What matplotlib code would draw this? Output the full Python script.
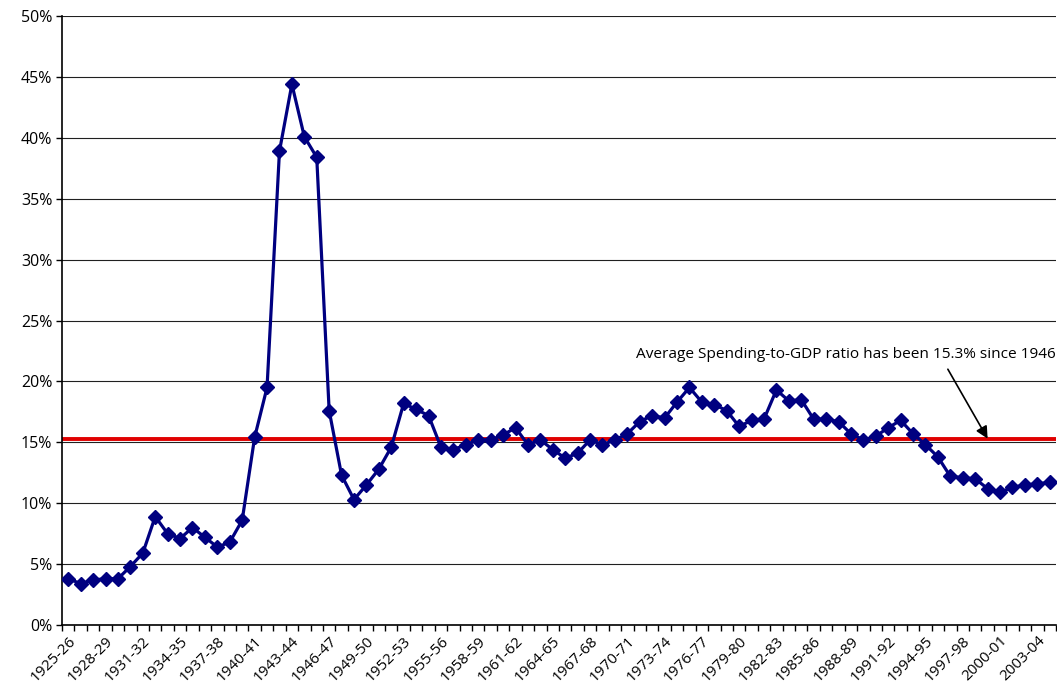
import matplotlib.pyplot as plt
from matplotlib.ticker import FixedLocator, FuncFormatter

# Fiscal years 1925-26 .. 2004-05
start_years = list(range(1925, 2005))
year_labels = [f"{y}-{(y + 1) % 100:02d}" for y in start_years]

# Spending as share of GDP (%)
spending_pct = [
    3.8, 3.4, 3.7, 3.8, 3.8, 4.8, 5.9, 8.9, 7.5, 7.1,
    8.0, 7.2, 6.4, 6.8, 8.6, 15.4, 19.5, 38.9, 44.4, 40.1,
    38.4, 17.6, 12.3, 10.3, 11.5, 12.8, 14.6, 18.2, 17.7, 17.2,
    14.6, 14.4, 14.8, 15.2, 15.2, 15.6, 16.2, 14.8, 15.2, 14.4,
    13.7, 14.1, 15.2, 14.8, 15.2, 15.7, 16.7, 17.2, 17.0, 18.3,
    19.5, 18.3, 18.1, 17.6, 16.3, 16.8, 16.9, 19.3, 18.4, 18.5,
    16.9, 16.9, 16.7, 15.7, 15.2, 15.5, 16.2, 16.8, 15.7, 14.8,
    13.8, 12.2, 12.1, 12.0, 11.2, 10.9, 11.3, 11.5, 11.6, 11.7,
]
avg_since_1946 = 15.3
note = "Average Spending-to-GDP ratio has been 15.3% since 1946"

plt.rcParams['font.family'] = ['Open Sans', 'DejaVu Sans']

fig = plt.figure(figsize=(10.57, 6.90), dpi=100)
ax = fig.add_axes([0.0587, 0.0942, 0.9403, 0.8826])

x = list(range(len(spending_pct)))
ax.plot(x, spending_pct, color='#000080', linewidth=2.3, marker='D',
        markersize=7.5, zorder=3)
ax.axhline(avg_since_1946, color='#e00000', linewidth=2.8, zorder=2)

ax.set_xlim(-0.5, len(x) - 0.5)
ax.set_ylim(0, 50)

# horizontal grid every 5%
ax.set_yticks(range(0, 51, 5))
ax.yaxis.set_major_formatter(FuncFormatter(lambda v, p: f"{int(v)}%"))
ax.grid(axis='y', color='#202020', linewidth=0.8)
ax.set_axisbelow(True)

# labels every 3rd year, tick marks between categories
ax.set_xticks(x[::3])
ax.set_xticklabels(year_labels[::3], rotation=45, ha='right',
                   rotation_mode='anchor')
ax.xaxis.set_minor_locator(FixedLocator([i - 0.5 for i in range(len(x) + 1)]))
ax.tick_params(axis='x', which='major', length=0, pad=6, labelsize=11)
ax.tick_params(axis='x', which='minor', length=4, width=1, direction='out')
ax.tick_params(axis='y', length=4, width=1, labelsize=11.5, pad=3)

ax.spines['right'].set_visible(False)
ax.spines['top'].set_visible(False)
for s in ('left', 'bottom'):
    ax.spines[s].set_linewidth(1.2)

ax.text(len(x) - 0.5, 22.2, note, ha='right', va='center', fontsize=11.1)
ax.annotate('', xy=(74.0, avg_since_1946), xytext=(70.8, 21.0),
            arrowprops=dict(arrowstyle='-|>', color='black', lw=1.2,
                            mutation_scale=18, shrinkA=0, shrinkB=0))

fig.savefig('out.png', dpi=100)
